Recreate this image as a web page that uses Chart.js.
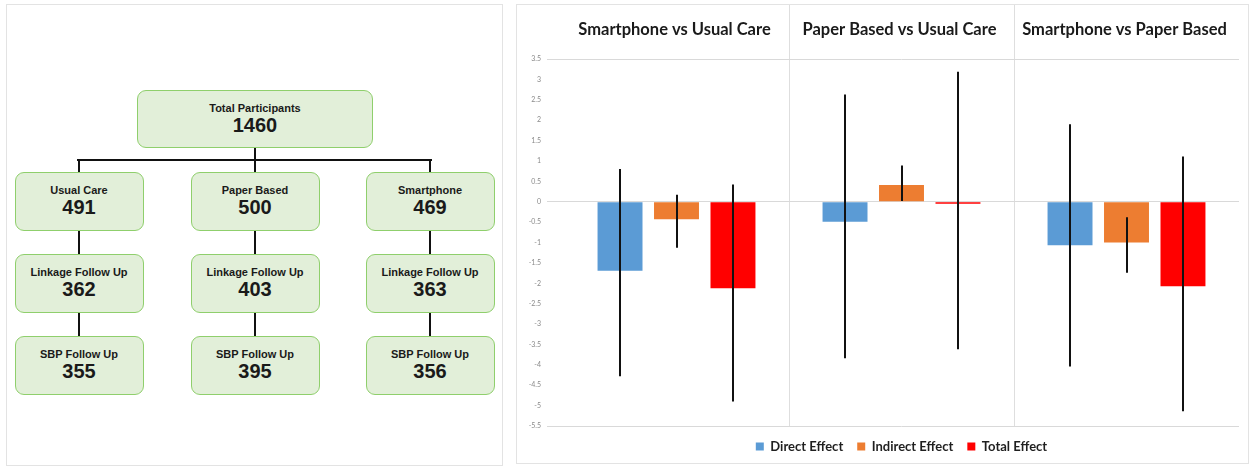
<!DOCTYPE html>
<html>
<head>
<meta charset="utf-8">
<script src="https://cdn.jsdelivr.net/npm/chart.js@4.4.1/dist/chart.umd.min.js"></script>
<style>
  html, body { margin: 0; padding: 0; background: #fff; }
  body { width: 1255px; height: 466px; position: relative; overflow: hidden; font-family: "Liberation Sans", Arial, sans-serif; }
  .panel { position: absolute; border: 1px solid #e3e3e3; box-sizing: border-box; }
  .box { position: absolute; box-sizing: border-box; background: #e2efd9; border: 1.5px solid #8fcf6c; border-radius: 9px; text-align: center; color: #1a1a1a; }
  .box .lab { position: absolute; left: 0; right: 0; top: 11px; font-size: 11px; font-weight: bold; }
  .box .num { position: absolute; left: 0; right: 0; top: 23px; font-size: 20px; font-weight: bold; }
  .ln { position: absolute; background: #111; }
  #chartWrap { position: absolute; left: 517px; top: 5px; width: 731px; height: 458px; }
</style>
</head>
<body>
<div class="panel" style="left:6px;top:4px;width:497px;height:462px;"></div>
<div id="flow"></div>
<div class="panel" style="left:516px;top:4px;width:733px;height:460px;"></div>
<div id="chartWrap"><canvas id="c" width="731" height="458"></canvas></div>
<script>
// ---------- Flowchart data ----------
const totalLabel = 'Total Participants';
const totalCount = 1460;
const armNames = ['Usual Care', 'Paper Based', 'Smartphone'];
const armCounts = [491, 500, 469];
const linkageLabel = 'Linkage Follow Up';
const linkageCounts = [362, 403, 363];
const sbpLabel = 'SBP Follow Up';
const sbpCounts = [355, 395, 356];

// ---------- Chart data ----------
const categories = ['Smartphone vs Usual Care', 'Paper Based vs Usual Care', 'Smartphone vs Paper Based'];
const seriesNames = ['Direct Effect', 'Indirect Effect', 'Total Effect'];
const directEffect = [-1.69, -0.49, -1.07];
const directLow = [-4.28, -3.84, -4.04];
const directHigh = [0.80, 2.63, 1.90];
const indirectEffect = [-0.43, 0.41, -1.00];
const indirectLow = [-1.13, 0.02, -1.74];
const indirectHigh = [0.17, 0.89, -0.38];
const totalEffect = [-2.12, -0.05, -2.07];
const totalLow = [-4.90, -3.62, -5.14];
const totalHigh = [0.42, 3.19, 1.11];
const yMin = -5.5, yMax = 3.5, yStep = 0.5;
const gridValues = [3.5, 0, -5.5];

// ---------- Build flowchart ----------
(function () {
  const flow = document.getElementById('flow');
  function box(x, y, w, h, lab, num) {
    const d = document.createElement('div');
    d.className = 'box';
    d.style.left = x + 'px'; d.style.top = y + 'px';
    d.style.width = w + 'px'; d.style.height = h + 'px';
    d.innerHTML = '<div class="lab">' + lab + '</div><div class="num">' + num + '</div>';
    flow.appendChild(d);
  }
  function line(x, y, w, h) {
    const d = document.createElement('div');
    d.className = 'ln';
    d.style.left = x + 'px'; d.style.top = y + 'px';
    d.style.width = w + 'px'; d.style.height = h + 'px';
    flow.appendChild(d);
  }
  const centers = [79, 255, 430];
  const bw = 129, bh = 59;
  const rowsY = [172, 254, 336];
  // connectors
  line(254, 148, 2, 12);
  line(77, 159, 355, 2);
  centers.forEach(cx => {
    line(cx - 1, 159, 2, 14);
    line(cx - 1, 231, 2, 24);
    line(cx - 1, 313, 2, 24);
  });
  box(137, 90, 236, 58, totalLabel, totalCount);
  centers.forEach((cx, i) => {
    box(cx - bw / 2, rowsY[0], bw, bh, armNames[i], armCounts[i]);
    box(cx - bw / 2, rowsY[1], bw, bh, linkageLabel, linkageCounts[i]);
    box(cx - bw / 2, rowsY[2], bw, bh, sbpLabel, sbpCounts[i]);
  });
})();

// ---------- Chart ----------
const lows = [directLow, indirectLow, totalLow];
const highs = [directHigh, indirectHigh, totalHigh];

const errorBars = {
  id: 'errorBars',
  afterDatasetsDraw(chart) {
    const ctx = chart.ctx;
    const ys = chart.scales.y;
    ctx.save();
    ctx.strokeStyle = '#111';
    ctx.lineWidth = 2;
    chart.data.datasets.forEach((ds, d) => {
      const meta = chart.getDatasetMeta(d);
      meta.data.forEach((el, i) => {
        const x = Math.round(el.x);
        ctx.beginPath();
        ctx.moveTo(x, ys.getPixelForValue(highs[d][i]));
        ctx.lineTo(x, ys.getPixelForValue(lows[d][i]));
        ctx.stroke();
      });
    });
    ctx.restore();
  }
};

const headers = {
  id: 'headers',
  beforeDraw(chart) {
    const ctx = chart.ctx;
    const xs = chart.scales.x;
    const area = chart.chartArea;
    ctx.save();
    // dividers between facets
    ctx.strokeStyle = '#dedede';
    ctx.lineWidth = 1;
    for (let i = 0; i < categories.length - 1; i++) {
      const bx = Math.round((xs.getPixelForValue(i) + xs.getPixelForValue(i + 1)) / 2) + 0.5;
      ctx.beginPath();
      ctx.moveTo(bx, 0);
      ctx.lineTo(bx, area.bottom);
      ctx.stroke();
    }
    ctx.fillStyle = '#1a1a1a';
    ctx.font = 'bold 16.5px Lato';
    ctx.textAlign = 'center';
    ctx.textBaseline = 'middle';
    categories.forEach((c, i) => {
      ctx.fillText(c, xs.getPixelForValue(i) - 2, 25);
    });
    ctx.restore();
  }
};

new Chart(document.getElementById('c'), {
  type: 'bar',
  data: {
    labels: categories,
    datasets: [
      { label: seriesNames[0], data: directEffect, backgroundColor: '#5b9bd5' },
      { label: seriesNames[1], data: indirectEffect, backgroundColor: '#ed7d31' },
      { label: seriesNames[2], data: totalEffect, backgroundColor: '#ff0000' }
    ]
  },
  options: {
    responsive: false,
    animation: false,
    devicePixelRatio: 1,
    layout: { padding: { top: 54, right: 9, left: 0, bottom: 0 } },
    datasets: { bar: { categoryPercentage: 0.753, barPercentage: 0.796 } },
    scales: {
      x: {
        display: true,
        grid: { display: false, drawTicks: false },
        border: { display: false },
        ticks: { display: false },
        afterFit(s) { s.height = 0; }
      },
      y: {
        min: yMin, max: yMax,
        border: { display: false },
        grid: {
          color: ctx => gridValues.includes(ctx.tick && ctx.tick.value) ? '#d9d9d9' : 'rgba(0,0,0,0)',
          tickLength: 17,
          lineWidth: 1
        },
        ticks: {
          stepSize: yStep,
          autoSkip: false,
          padding: 6,
          color: '#8a8a8a',
          font: { family: 'Lato', size: 7 },
          callback: v => String(v)
        },
        afterFit(s) { s.width = 47; }
      }
    },
    plugins: {
      legend: {
        position: 'bottom',
        fullSize: false,
        labels: {
          boxWidth: 8, boxHeight: 8, padding: 14,
          color: '#1f1f1f',
          font: { family: 'Lato', size: 13, weight: 'bold' }
        }
      },
      tooltip: { enabled: false }
    }
  },
  plugins: [errorBars, headers]
});
</script>
</body>
</html>
